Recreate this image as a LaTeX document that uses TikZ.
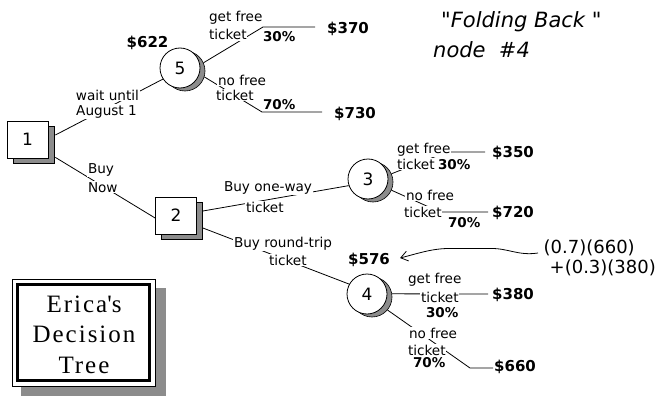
\documentclass[tikz,border=0pt]{standalone}
\usepackage{fontspec}
\setmainfont{DejaVu Sans}
\newfontfamily\titlefont[LetterSpace=8]{Liberation Serif}
\usetikzlibrary{arrows.meta}
\begin{document}
\begin{tikzpicture}[x=1pt,y=-1pt,
  conn/.style={line width=0.8pt},
  shadowfill/.style={fill=black!45},
  decbox/.style={draw, line width=0.8pt, fill=white, minimum width=41pt, minimum height=37pt, inner sep=0pt, font=\fontsize{17}{19}\selectfont},
  boxshadow/.style={draw, line width=0.6pt, shadowfill, minimum width=41pt, minimum height=37pt, inner sep=0pt},
  chance/.style={circle, draw, line width=0.8pt, fill=white, minimum size=40pt, inner sep=0pt, font=\fontsize{17}{19}\selectfont},
  chshadow/.style={circle, draw, line width=0.6pt, shadowfill, minimum size=40pt, inner sep=0pt},
  lbl/.style={font=\fontsize{13.6}{15}\selectfont, fill=white, inner sep=0.8pt, anchor=base west},
  pct/.style={font=\fontsize{13.5}{15}\selectfont\bfseries, fill=white, inner sep=0.8pt, anchor=base west},
  pay/.style={font=\fontsize{15}{17}\selectfont\bfseries, inner sep=1pt},
  formula/.style={font=\fontsize{18}{20}\selectfont, inner sep=0.5pt, anchor=base west},
  note/.style={font=\fontsize{21}{24}\selectfont\itshape, inner sep=0pt, anchor=base west},
  titletxt/.style={font=\titlefont\fontsize{25}{30}\selectfont, anchor=base, inner sep=0pt},
  arr/.style={line width=0.8pt, -{Straight Barb[length=7pt,width=10pt]}}
]
\useasboundingbox (0,0) rectangle (656,396);
\fill[white] (0,0) rectangle (656,396);

% title box
\fill[shadowfill] (21,288) rectangle (166,396);
\draw[fill=white, line width=0.8pt] (12,279) rectangle (155,386);
\draw[line width=2.6pt] (17.5,284.5) rectangle (149.5,380.5);
\node[titletxt] (t1) at (84,312) {Erica\textquotesingle s};
\node[titletxt] (t2) at (84,342) {Decision};
\node[titletxt] (t3) at (84,373) {Tree};

% decision nodes
\node[boxshadow] (n1s) at (33.5,144.5) {};
\node[decbox] (n1) at (27.5,139.5) {1};
\node[boxshadow] (n2s) at (182,220.5) {};
\node[decbox] (n2) at (176,215.5) {2};

% chance nodes
\node[chshadow] (c5s) at (185,71) {};
\node[chance] (c5) at (180,68) {5};
\node[chshadow] (c3s) at (373,182) {};
\node[chance] (c3) at (368,179) {3};
\node[chshadow] (c4s) at (372,297) {};
\node[chance] (c4) at (367,294) {4};

% payoffs
\node[pay] (v622) at (147.5,42.5) {\$622};
\node[pay] (v370) at (348,29) {\$370};
\node[pay] (v730) at (355,113.5) {\$730};
\node[pay] (v350) at (513,152.5) {\$350};
\node[pay] (v720) at (513,213) {\$720};
\node[pay] (v576) at (369,260) {\$576};
\node[pay] (v380) at (513,295) {\$380};
\node[pay] (v660) at (515,367) {\$660};

% branch corners
\coordinate (k5a) at (263,27);  \coordinate (e5a) at (315,27);
\coordinate (k5b) at (262,112); \coordinate (e5b) at (322,112);
\coordinate (k3a) at (447,152); \coordinate (e3a) at (485,152);
\coordinate (k3b) at (440,212); \coordinate (e3b) at (488,212);
\coordinate (e4a) at (488,294);
\coordinate (k4b) at (470,368); \coordinate (e4b) at (493,368);

% decision connectors
\draw[conn] ([shift={(7,-4.5)}]n1.east) -- (c5.213);
\draw[conn] ([shift={(7,-1)}]n1.south east) -- ([shift={(0,2.5)}]n2.west);
\draw[conn] ([shift={(6,-4.5)}]n2.east) -- (c3.199);
\draw[conn] ([shift={(6,12.5)}]n2.east) -- (c4.151);

% chance connectors
\draw[conn] (c5s.24) -- (k5a) -- (e5a);
\draw[conn] (c5s.343) -- (k5b) -- (e5b);
\draw[conn] (c3s.24) -- (k3a) -- (e3a);
\draw[conn] (c3s.336) -- (k3b) -- (e3b);
\draw[conn] (c4s.9) -- (e4a);
\draw[conn] (c4s.320) -- (k4b) -- (e4b);

% decision labels
\node[lbl, anchor=base] (w1) at (107.5,100) {wait until};
\node[lbl, anchor=base] (w2) at (106.5,115) {August 1};
\node[lbl] (bn1) at (87,173) {Buy};
\node[lbl] (bn2) at (87,192) {Now};
\node[lbl] (bo1) at (223,191) {Buy one-way};
\node[lbl] (bo2) at (245,212) {ticket};
\node[lbl] (br1) at (233,247) {Buy round-trip};
\node[lbl] (br2) at (268,265) {ticket};

% chance labels
\node[lbl] (g5a) at (208,22) {get free};
\node[lbl] (t5a) at (208,40) {ticket};
\node[pct] (p5a) at (262,42) {30\%};
\node[lbl] (g5b) at (217,85) {no free};
\node[lbl] (t5b) at (215,100) {ticket};
\node[pct] (p5b) at (262,110) {70\%};

\node[lbl] (g3a) at (396,153) {get free};
\node[lbl] (t3a) at (396,169) {ticket};
\node[pct] (p3a) at (437,169) {30\%};
\node[lbl] (g3b) at (405,200) {no free};
\node[lbl] (t3b) at (403,217) {ticket};
\node[pct] (p3b) at (447,227) {70\%};

\node[lbl] (g4a) at (407,283) {get free};
\node[lbl] (t4a) at (420,302) {ticket};
\node[pct] (p4a) at (425,317) {30\%};
\node[lbl] (g4b) at (408,338) {no free};
\node[lbl] (t4b) at (407,355) {ticket};
\node[pct] (p4b) at (412,367) {70\%};

% folding back formula
\node[formula] (f1) at (543,253) {(0.7)(660)};
\node[formula] (f2) at (549,273) {+(0.3)(380)};
\draw[arr] ([shift={(-5,0)}]f1.base west) .. controls (518,256) and (508,248) .. (490,248.5)
  -- (447,248.5) .. controls (430,249) and (416,254) .. ([shift={(9,-2)}]v576.east);

% note
\node[note] (fb1) at (441,28) {\textquotedbl Folding Back \textquotedbl};
\node[note] (fb2) at (433,58) {node \ \#4};
\end{tikzpicture}
\end{document}
